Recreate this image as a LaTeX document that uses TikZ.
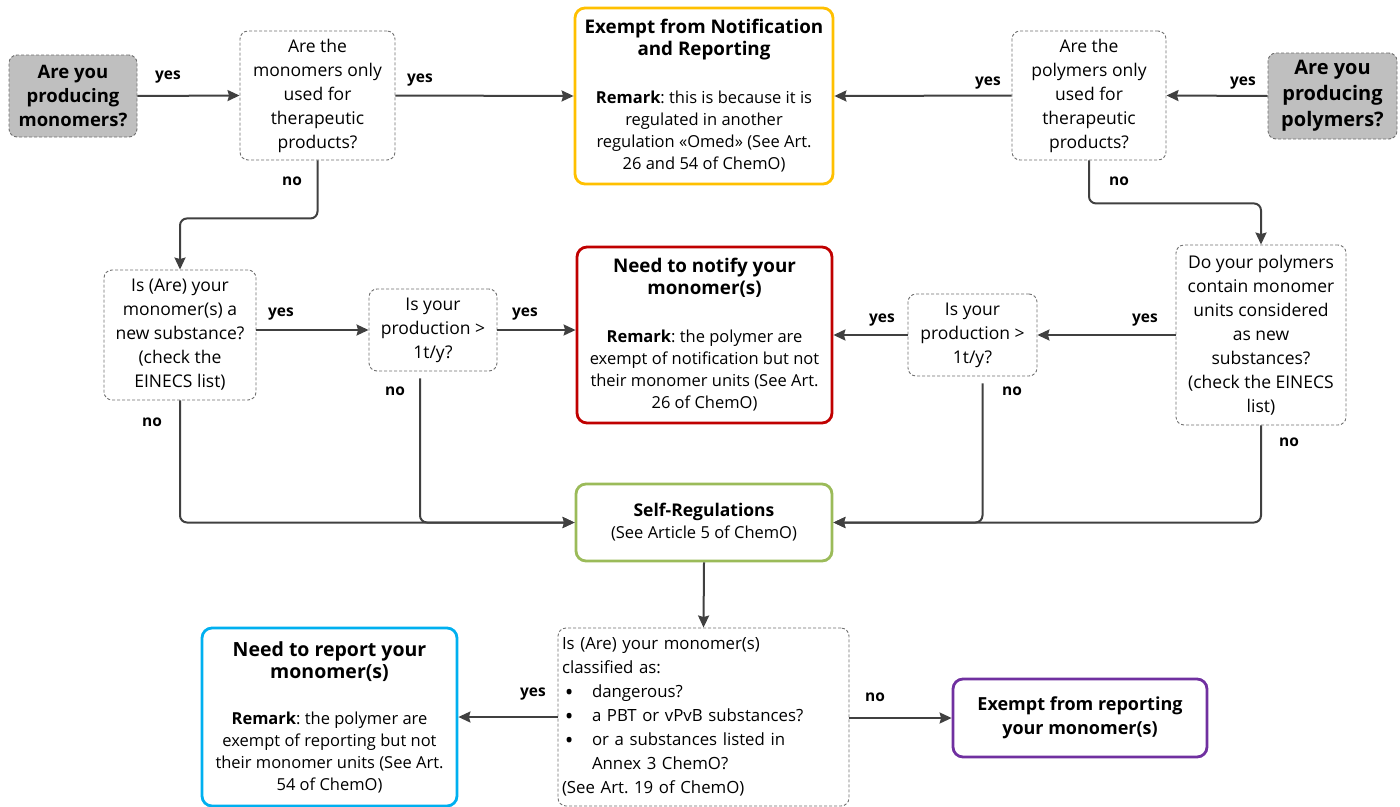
\documentclass[tikz,border=0pt]{standalone}
\usepackage{fontspec}
\setmainfont{Open Sans}
\usetikzlibrary{arrows.meta}
\definecolor{ln}{HTML}{404040}
\definecolor{dbord}{HTML}{6F6F6F}
\definecolor{gfill}{HTML}{BFBFBF}
\definecolor{cyel}{HTML}{FFC000}
\definecolor{cred}{HTML}{C00000}
\definecolor{cgrn}{HTML}{9BBB59}
\definecolor{cblu}{HTML}{00B0F0}
\definecolor{cpur}{HTML}{7030A0}
\tikzset{
  qbox/.style={draw=dbord, line width=0.9pt, dash pattern=on 3pt off 2pt, rounded corners=8pt,
    fill=white, align=center, inner sep=3pt, font=\fontsize{17.5}{24}\selectfont},
  startbox/.style={qbox, fill=gfill, font=\fontsize{18.5}{24}\selectfont\bfseries},
  resbox/.style={line width=2.8pt, rounded corners=10pt, fill=white, align=center, inner sep=3pt,
    font=\fontsize{16.5}{22}\selectfont},
  lbl/.style={font=\fontsize{15.5}{18}\selectfont\bfseries, inner sep=1pt},
  arr/.style={draw=ln, line width=2pt, rounded corners=7pt,
    -{Stealth[length=12pt,width=11pt,inset=1.5pt]}},
}
\newcommand{\hd}[1]{{\fontsize{18.8}{24}\selectfont\bfseries #1}}
\newcommand{\bul}{\makebox[30pt][l]{\,\raisebox{-2.5pt}{\fontsize{23}{24}\selectfont\textbullet}}}
\frenchspacing
\begin{document}
\begin{tikzpicture}[x=1pt,y=-1pt]
\useasboundingbox (0,0) rectangle (1400,806);
% nodes
\node[startbox, minimum width=128pt, minimum height=82pt] (ms) at (73,96) {Are you\\producing\\monomers?};
\node[qbox, minimum width=155pt, minimum height=129pt] (qm) at (317.5,95.5) {Are the\\monomers only\\used for\\therapeutic\\products?};
\node[resbox, draw=cyel, minimum width=258pt, minimum height=176pt] (ex) at (704,96)
  {\hd{Exempt from Notification}\\\hd{and Reporting}\\[26pt]\textbf{Remark}: this is because it is\\regulated in another\\regulation «Omed» (See Art.\\26 and 54 of ChemO)};
\node[qbox, minimum width=154pt, minimum height=129pt] (qp) at (1089,95.5) {Are the\\polymers only\\used for\\therapeutic\\products?};
\node[startbox, minimum width=129pt, minimum height=86pt, font=\fontsize{20}{26}\selectfont\bfseries] (ps) at (1332.5,96) {Are you\\producing\\polymers?};
\node[qbox, minimum width=152pt, minimum height=130pt] (nm) at (180,335) {Is (Are) your\\monomer(s) a\\new substance?\\(check the\\EINECS list)};
\node[qbox, minimum width=128pt, minimum height=82pt] (p1) at (433,330) {Is your\\production >\\1t/y?};
\node[resbox, draw=cred, minimum width=255pt, minimum height=176pt] (nt) at (704.5,335)
  {\hd{Need to notify your}\\\hd{monomer(s)}\\[26pt]\textbf{Remark}: the polymer are\\exempt of notification but not\\their monomer units (See Art.\\26 of ChemO)};
\node[qbox, minimum width=129pt, minimum height=82pt] (p2) at (972.5,335) {Is your\\production >\\1t/y?};
\node[qbox, minimum width=170pt, minimum height=180pt] (np) at (1261,335) {Do your polymers\\contain monomer\\units considered\\as new\\substances?\\(check the EINECS\\list)};
\node[resbox, draw=cgrn, minimum width=256pt, minimum height=77pt] (sr) at (704,522.5)
  {{\fontsize{17.5}{24}\selectfont\bfseries Self-Regulations}\\(See Article 5 of ChemO)};
\node[qbox, text width=283pt, align=left, minimum height=178pt, inner sep=4pt, font=\fontsize{16.8}{24}\selectfont] (cl) at (703.5,717)
  {Is (Are) your monomer(s)\\classified as:\\\bul dangerous?\\\bul a PBT or vPvB substances?\\\bul or a substances listed in\\\hspace*{30pt}Annex 3 ChemO?\\(See Art. 19 of ChemO)};
\node[resbox, draw=cblu, minimum width=255pt, minimum height=178pt] (rp) at (329.5,717)
  {{\fontsize{19.5}{25}\selectfont\bfseries Need to report your}\\{\fontsize{19.5}{25}\selectfont\bfseries monomer(s)}\\[24pt]\textbf{Remark}: the polymer are\\exempt of reporting but not\\their monomer units (See Art.\\54 of ChemO)};
\node[resbox, draw=cpur, minimum width=254pt, minimum height=78pt, font=\fontsize{18}{24}\selectfont\bfseries] (er) at (1080,718)
  {Exempt from reporting\\your monomer(s)};
% connectors
\draw[arr] (ms.east) -- (qm.west);
\draw[arr] (qm.east) -- (ex.west);
\draw[arr] (ps.west) -- (qp.east);
\draw[arr] (qp.west) -- (ex.east);
\draw[arr] (qm.south) -- ++(0,58) -| (nm.north);
\draw[arr] (qp.south) -- ++(0,43) -| (np.north);
\draw[arr] (nm.east |- p1.west) -- (p1.west);
\draw[arr] (p1.east) -- (p1.east -| nt.west);
\draw[arr] (np.west |- p2.east) -- (p2.east);
\draw[arr] (p2.west) -- (p2.west -| nt.east);
\draw[arr] (nm.south) |- (sr.west);
\draw[arr] ([xshift=-13pt,yshift=-7pt]p1.south) |- (sr.west);
\draw[arr] ([xshift=10pt,yshift=-7pt]p2.south) |- (sr.east);
\draw[arr] (np.south) |- (sr.east);
\draw[arr] (sr.south) -- (cl.north);
\draw[arr] (cl.west |- rp.east) -- (rp.east);
\draw[arr] (cl.east |- er.west) -- (er.west);
% labels
\node[lbl] (l1) at (168,77) {yes};
\node[lbl] (l2) at (420,80) {yes};
\node[lbl] (l3) at (292,181) {no};
\node[lbl] (l4) at (988,83) {yes};
\node[lbl] (l5) at (1243,83) {yes};
\node[lbl] (l6) at (1119,181) {no};
\node[lbl] (l7) at (281,314) {yes};
\node[lbl] (l8) at (525,314) {yes};
\node[lbl] (l9) at (152,422) {no};
\node[lbl] (l10) at (395,391) {no};
\node[lbl] (l11) at (882,320) {yes};
\node[lbl] (l12) at (1145,320) {yes};
\node[lbl] (l13) at (1012,391) {no};
\node[lbl] (l14) at (1289,442) {no};
\node[lbl] (l15) at (533,694) {yes};
\node[lbl] (l16) at (875,697) {no};
\end{tikzpicture}
\end{document}
